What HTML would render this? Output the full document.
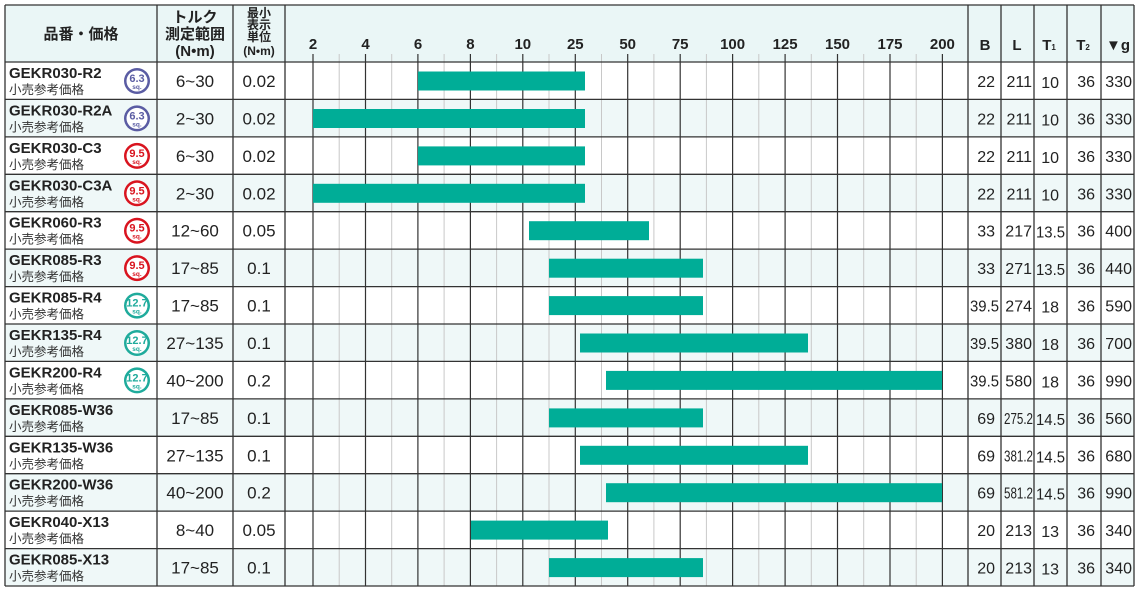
<!DOCTYPE html>
<html><head><meta charset="utf-8"><style>
html,body{margin:0;padding:0;background:#fff}
svg{display:block;font-family:"Liberation Sans","Noto Sans CJK JP",sans-serif}
.n{font-weight:bold;font-size:15px;fill:#222}
.s{font-size:12.5px;fill:#333}
.v{font-size:17px;fill:#222;text-anchor:middle}
.r{font-size:16px;fill:#222;text-anchor:end}
.h{font-weight:bold;font-size:15px;fill:#222;text-anchor:middle}
.hs{font-weight:bold;font-size:12px;fill:#222;text-anchor:middle}
.bt{font-weight:bold;font-size:11px;text-anchor:middle}
.bs{font-weight:bold;font-size:6.5px;text-anchor:middle}
</style></head><body>
<svg width="1142" height="592" viewBox="0 0 1142 592">
<rect x="5" y="5" width="1129" height="57" fill="#eaf6f6"/>
<g fill="#eff8f8">
<rect x="5" y="99.4" width="1129" height="37.5"/>
<rect x="5" y="174.3" width="1129" height="37.4"/>
<rect x="5" y="249.1" width="1129" height="37.5"/>
<rect x="5" y="324" width="1129" height="37.4"/>
<rect x="5" y="398.9" width="1129" height="37.4"/>
<rect x="5" y="473.7" width="1129" height="37.4"/>
<rect x="5" y="548.6" width="1129" height="37.4"/>
</g>
<g stroke="#c8c8c8" stroke-width="1">
<line x1="339.2" y1="54" x2="339.2" y2="586"/><line x1="391.7" y1="54" x2="391.7" y2="586"/>
<line x1="444.1" y1="54" x2="444.1" y2="586"/><line x1="496.6" y1="54" x2="496.6" y2="586"/>
<line x1="549" y1="54" x2="549" y2="586"/><line x1="601.5" y1="54" x2="601.5" y2="586"/>
<line x1="653.9" y1="54" x2="653.9" y2="586"/><line x1="706.4" y1="54" x2="706.4" y2="586"/>
<line x1="758.8" y1="54" x2="758.8" y2="586"/><line x1="811.3" y1="54" x2="811.3" y2="586"/>
<line x1="863.7" y1="54" x2="863.7" y2="586"/><line x1="916.2" y1="54" x2="916.2" y2="586"/>
</g>
<g stroke="#333" stroke-width="1.2">
<line x1="313" y1="54" x2="313" y2="586"/><line x1="365.5" y1="54" x2="365.5" y2="586"/>
<line x1="417.9" y1="54" x2="417.9" y2="586"/><line x1="470.4" y1="54" x2="470.4" y2="586"/>
<line x1="522.8" y1="54" x2="522.8" y2="586"/><line x1="575.3" y1="54" x2="575.3" y2="586"/>
<line x1="627.7" y1="54" x2="627.7" y2="586"/><line x1="680.2" y1="54" x2="680.2" y2="586"/>
<line x1="732.6" y1="54" x2="732.6" y2="586"/><line x1="785.1" y1="54" x2="785.1" y2="586"/>
<line x1="837.5" y1="54" x2="837.5" y2="586"/><line x1="890" y1="54" x2="890" y2="586"/>
<line x1="942.4" y1="54" x2="942.4" y2="586"/>
</g>
<g fill="#00ad97">
<rect x="418" y="71.5" width="167" height="19"/>
<rect x="313" y="109" width="272" height="19"/>
<rect x="418" y="146.4" width="167" height="19"/>
<rect x="313" y="183.8" width="272" height="19"/>
<rect x="529" y="221.2" width="120" height="19"/>
<rect x="549" y="258.7" width="154" height="19"/>
<rect x="549" y="296.1" width="154" height="19"/>
<rect x="580" y="333.5" width="228" height="19"/>
<rect x="606" y="370.9" width="336" height="19"/>
<rect x="549" y="408.4" width="154" height="19"/>
<rect x="580" y="445.8" width="228" height="19"/>
<rect x="606" y="483.2" width="336" height="19"/>
<rect x="471" y="520.6" width="137" height="19"/>
<rect x="549" y="558.1" width="154" height="19"/>
</g>
<g stroke="#333" stroke-width="1.3">
<line x1="5" y1="5" x2="1134" y2="5"/>
<line x1="5" y1="62" x2="1134" y2="62"/>
<line x1="5" y1="99.4" x2="1134" y2="99.4"/><line x1="5" y1="136.9" x2="1134" y2="136.9"/>
<line x1="5" y1="174.3" x2="1134" y2="174.3"/><line x1="5" y1="211.7" x2="1134" y2="211.7"/>
<line x1="5" y1="249.1" x2="1134" y2="249.1"/><line x1="5" y1="286.6" x2="1134" y2="286.6"/>
<line x1="5" y1="324" x2="1134" y2="324"/><line x1="5" y1="361.4" x2="1134" y2="361.4"/>
<line x1="5" y1="398.9" x2="1134" y2="398.9"/><line x1="5" y1="436.3" x2="1134" y2="436.3"/>
<line x1="5" y1="473.7" x2="1134" y2="473.7"/><line x1="5" y1="511.1" x2="1134" y2="511.1"/>
<line x1="5" y1="548.6" x2="1134" y2="548.6"/><line x1="5" y1="586" x2="1134" y2="586"/>
<line x1="5" y1="5" x2="5" y2="586"/><line x1="157" y1="5" x2="157" y2="586"/>
<line x1="233" y1="5" x2="233" y2="586"/><line x1="285" y1="5" x2="285" y2="586"/>
<line x1="968" y1="5" x2="968" y2="586"/><line x1="1001" y1="5" x2="1001" y2="586"/>
<line x1="1034" y1="5" x2="1034" y2="586"/><line x1="1067" y1="5" x2="1067" y2="586"/>
<line x1="1101" y1="5" x2="1101" y2="586"/><line x1="1134" y1="5" x2="1134" y2="586"/>
</g>
<text class="h" x="81" y="39" font-size="16">品番・価格</text>
<text class="h" x="195" y="22" font-size="16">トルク</text>
<text class="h" x="195" y="39" font-size="16">測定範囲</text>
<text class="h" x="195" y="56" font-size="16">(N•m)</text>
<text class="hs" x="259" y="17">最小</text>
<text class="hs" x="259" y="29">表示</text>
<text class="hs" x="259" y="41">単位</text>
<text class="hs" x="259" y="55">(N•m)</text>
<g class="h" font-size="16">
<text x="313" y="49">2</text><text x="365.5" y="49">4</text><text x="418" y="49">6</text>
<text x="470.4" y="49">8</text><text x="522.8" y="49">10</text><text x="575.3" y="49">25</text>
<text x="627.7" y="49">50</text><text x="680.2" y="49">75</text><text x="732.6" y="49">100</text>
<text x="785.1" y="49">125</text><text x="837.5" y="49">150</text><text x="890" y="49">175</text>
<text x="942.4" y="49">200</text>
<text x="985" y="50">B</text><text x="1017" y="50">L</text>
<text x="1049" y="50">T<tspan font-size="8">1</tspan></text>
<text x="1083" y="50">T<tspan font-size="8">2</tspan></text>
<text x="1118" y="50">▼g</text>
</g>
<defs>
<g id="bp"><circle cx="137" cy="19" r="13" fill="#5a5ca3"/><circle cx="137" cy="19" r="10.5" fill="#fff"/></g>
<g id="br"><circle cx="137" cy="19" r="13" fill="#d9141f"/><circle cx="137" cy="19" r="10.5" fill="#fff"/></g>
<g id="bg"><circle cx="137" cy="19" r="13" fill="#1fab9c"/><circle cx="137" cy="19" r="10.5" fill="#fff"/></g>
</defs>
<g transform="translate(0,62)">
<text class="n" x="9" y="16">GEKR030-R2</text><text class="s" x="9" y="32">小売参考価格</text>
<use href="#bp"/><text class="bt" x="137" y="20" fill="#5a5ca3">6.3</text><text class="bs" x="137" y="27" fill="#5a5ca3">sq.</text>
<text class="v" x="195" y="25">6~30</text><text class="v" x="259" y="25">0.02</text>
<text class="r" x="995" y="25">22</text><text class="r" x="1032" y="25">211</text><text class="r" x="1059" y="26">10</text><text class="r" x="1095" y="25">36</text><text class="r" x="1132" y="25">330</text>
</g>
<g transform="translate(0,99.4)">
<text class="n" x="9" y="16">GEKR030-R2A</text><text class="s" x="9" y="32">小売参考価格</text>
<use href="#bp"/><text class="bt" x="137" y="20" fill="#5a5ca3">6.3</text><text class="bs" x="137" y="27" fill="#5a5ca3">sq.</text>
<text class="v" x="195" y="25">2~30</text><text class="v" x="259" y="25">0.02</text>
<text class="r" x="995" y="25">22</text><text class="r" x="1032" y="25">211</text><text class="r" x="1059" y="26">10</text><text class="r" x="1095" y="25">36</text><text class="r" x="1132" y="25">330</text>
</g>
<g transform="translate(0,136.9)">
<text class="n" x="9" y="16">GEKR030-C3</text><text class="s" x="9" y="32">小売参考価格</text>
<use href="#br"/><text class="bt" x="137" y="20" fill="#d9141f">9.5</text><text class="bs" x="137" y="27" fill="#d9141f">sq.</text>
<text class="v" x="195" y="25">6~30</text><text class="v" x="259" y="25">0.02</text>
<text class="r" x="995" y="25">22</text><text class="r" x="1032" y="25">211</text><text class="r" x="1059" y="26">10</text><text class="r" x="1095" y="25">36</text><text class="r" x="1132" y="25">330</text>
</g>
<g transform="translate(0,174.3)">
<text class="n" x="9" y="16">GEKR030-C3A</text><text class="s" x="9" y="32">小売参考価格</text>
<use href="#br"/><text class="bt" x="137" y="20" fill="#d9141f">9.5</text><text class="bs" x="137" y="27" fill="#d9141f">sq.</text>
<text class="v" x="195" y="25">2~30</text><text class="v" x="259" y="25">0.02</text>
<text class="r" x="995" y="25">22</text><text class="r" x="1032" y="25">211</text><text class="r" x="1059" y="26">10</text><text class="r" x="1095" y="25">36</text><text class="r" x="1132" y="25">330</text>
</g>
<g transform="translate(0,211.7)">
<text class="n" x="9" y="16">GEKR060-R3</text><text class="s" x="9" y="32">小売参考価格</text>
<use href="#br"/><text class="bt" x="137" y="20" fill="#d9141f">9.5</text><text class="bs" x="137" y="27" fill="#d9141f">sq.</text>
<text class="v" x="195" y="25">12~60</text><text class="v" x="259" y="25">0.05</text>
<text class="r" x="995" y="25">33</text><text class="r" x="1032" y="25">217</text><text class="r" x="1065" y="26" textLength="29" lengthAdjust="spacingAndGlyphs">13.5</text><text class="r" x="1095" y="25">36</text><text class="r" x="1132" y="25">400</text>
</g>
<g transform="translate(0,249.1)">
<text class="n" x="9" y="16">GEKR085-R3</text><text class="s" x="9" y="32">小売参考価格</text>
<use href="#br"/><text class="bt" x="137" y="20" fill="#d9141f">9.5</text><text class="bs" x="137" y="27" fill="#d9141f">sq.</text>
<text class="v" x="195" y="25">17~85</text><text class="v" x="259" y="25">0.1</text>
<text class="r" x="995" y="25">33</text><text class="r" x="1032" y="25">271</text><text class="r" x="1065" y="26" textLength="29" lengthAdjust="spacingAndGlyphs">13.5</text><text class="r" x="1095" y="25">36</text><text class="r" x="1132" y="25">440</text>
</g>
<g transform="translate(0,286.6)">
<text class="n" x="9" y="16">GEKR085-R4</text><text class="s" x="9" y="32">小売参考価格</text>
<use href="#bg"/><text class="bt" x="137" y="20" fill="#1fab9c" font-size="9.5">12.7</text><text class="bs" x="137" y="27" fill="#1fab9c">sq.</text>
<text class="v" x="195" y="25">17~85</text><text class="v" x="259" y="25">0.1</text>
<text class="r" x="999" y="25" textLength="29" lengthAdjust="spacingAndGlyphs">39.5</text><text class="r" x="1032" y="25">274</text><text class="r" x="1059" y="26">18</text><text class="r" x="1095" y="25">36</text><text class="r" x="1132" y="25">590</text>
</g>
<g transform="translate(0,324)">
<text class="n" x="9" y="16">GEKR135-R4</text><text class="s" x="9" y="32">小売参考価格</text>
<use href="#bg"/><text class="bt" x="137" y="20" fill="#1fab9c" font-size="9.5">12.7</text><text class="bs" x="137" y="27" fill="#1fab9c">sq.</text>
<text class="v" x="195" y="25">27~135</text><text class="v" x="259" y="25">0.1</text>
<text class="r" x="999" y="25" textLength="29" lengthAdjust="spacingAndGlyphs">39.5</text><text class="r" x="1032" y="25">380</text><text class="r" x="1059" y="26">18</text><text class="r" x="1095" y="25">36</text><text class="r" x="1132" y="25">700</text>
</g>
<g transform="translate(0,361.4)">
<text class="n" x="9" y="16">GEKR200-R4</text><text class="s" x="9" y="32">小売参考価格</text>
<use href="#bg"/><text class="bt" x="137" y="20" fill="#1fab9c" font-size="9.5">12.7</text><text class="bs" x="137" y="27" fill="#1fab9c">sq.</text>
<text class="v" x="195" y="25">40~200</text><text class="v" x="259" y="25">0.2</text>
<text class="r" x="999" y="25" textLength="29" lengthAdjust="spacingAndGlyphs">39.5</text><text class="r" x="1032" y="25">580</text><text class="r" x="1059" y="26">18</text><text class="r" x="1095" y="25">36</text><text class="r" x="1132" y="25">990</text>
</g>
<g transform="translate(0,398.9)">
<text class="n" x="9" y="16">GEKR085-W36</text><text class="s" x="9" y="32">小売参考価格</text>
<text class="v" x="195" y="25">17~85</text><text class="v" x="259" y="25">0.1</text>
<text class="r" x="995" y="25">69</text><text class="r" x="1033" y="25" font-size="13" textLength="29" lengthAdjust="spacingAndGlyphs">275.2</text><text class="r" x="1065" y="26" textLength="29" lengthAdjust="spacingAndGlyphs">14.5</text><text class="r" x="1095" y="25">36</text><text class="r" x="1132" y="25">560</text>
</g>
<g transform="translate(0,436.3)">
<text class="n" x="9" y="16">GEKR135-W36</text><text class="s" x="9" y="32">小売参考価格</text>
<text class="v" x="195" y="25">27~135</text><text class="v" x="259" y="25">0.1</text>
<text class="r" x="995" y="25">69</text><text class="r" x="1033" y="25" font-size="13" textLength="29" lengthAdjust="spacingAndGlyphs">381.2</text><text class="r" x="1065" y="26" textLength="29" lengthAdjust="spacingAndGlyphs">14.5</text><text class="r" x="1095" y="25">36</text><text class="r" x="1132" y="25">680</text>
</g>
<g transform="translate(0,473.7)">
<text class="n" x="9" y="16">GEKR200-W36</text><text class="s" x="9" y="32">小売参考価格</text>
<text class="v" x="195" y="25">40~200</text><text class="v" x="259" y="25">0.2</text>
<text class="r" x="995" y="25">69</text><text class="r" x="1033" y="25" font-size="13" textLength="29" lengthAdjust="spacingAndGlyphs">581.2</text><text class="r" x="1065" y="26" textLength="29" lengthAdjust="spacingAndGlyphs">14.5</text><text class="r" x="1095" y="25">36</text><text class="r" x="1132" y="25">990</text>
</g>
<g transform="translate(0,511.1)">
<text class="n" x="9" y="16">GEKR040-X13</text><text class="s" x="9" y="32">小売参考価格</text>
<text class="v" x="195" y="25">8~40</text><text class="v" x="259" y="25">0.05</text>
<text class="r" x="995" y="25">20</text><text class="r" x="1032" y="25">213</text><text class="r" x="1059" y="26">13</text><text class="r" x="1095" y="25">36</text><text class="r" x="1132" y="25">340</text>
</g>
<g transform="translate(0,548.6)">
<text class="n" x="9" y="16">GEKR085-X13</text><text class="s" x="9" y="32">小売参考価格</text>
<text class="v" x="195" y="25">17~85</text><text class="v" x="259" y="25">0.1</text>
<text class="r" x="995" y="25">20</text><text class="r" x="1032" y="25">213</text><text class="r" x="1059" y="26">13</text><text class="r" x="1095" y="25">36</text><text class="r" x="1132" y="25">340</text>
</g>
</svg>
</body></html>
